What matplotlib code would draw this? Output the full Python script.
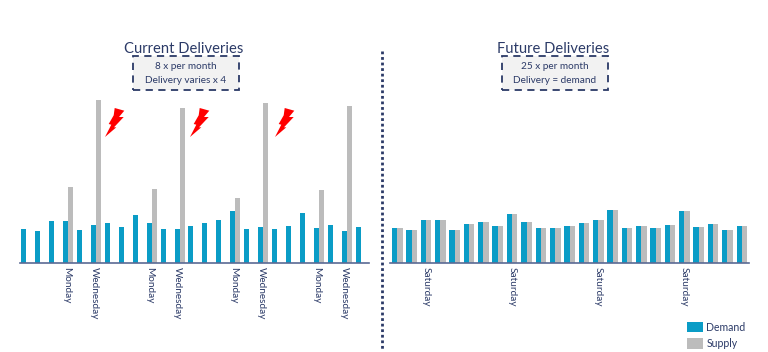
#Import Libraries
import numpy as np
from matplotlib import pyplot as plt
from matplotlib.patches import Polygon, Rectangle
from matplotlib.lines import Line2D
from matplotlib.transforms import ScaledTranslation

plt.rcParams['font.family'] = ['Lato', 'DejaVu Sans']

# Data (bar heights)
current_demand = [34, 32.3, 42, 42, 33.3, 38, 40, 36, 48, 40, 34, 34.7, 37.3,
                  40, 43.3, 52, 34, 36.7, 34.7, 37.3, 50.7, 35.3, 38, 32.3, 36.7]
current_supply = [0, 0, 0, 76, 0, 163, 0, 0, 0, 74, 0, 155, 0,
                  0, 0, 65, 0, 160, 0, 0, 0, 73.6, 0, 157, 0]
current_labels = ['', '', '', 'Monday', '', 'Wednesday', '', '', '', 'Monday', '', 'Wednesday', '',
                  '', '', 'Monday', '', 'Wednesday', '', '', '', 'Monday', '', 'Wednesday', '']

future_demand = [35, 33, 43, 43, 33.7, 39, 41, 37, 49, 41, 35, 35, 37.7,
                 40.3, 43.7, 53, 35, 37.7, 35.7, 38.3, 52.3, 36.3, 39, 33, 37.7]
future_supply = list(future_demand)
future_labels = ['', '', 'Saturday', '', '', '', '', '', 'Saturday', '', '', '', '',
                 '', 'Saturday', '', '', '', '', '', 'Saturday', '', '', '', '']

BLUE = '#0a9cc6'
GREY = '#bcbcbc'
NAVY = '#2b3a67'
W, H = 768, 352


def px_axes(fig, x0, x1, ytop, ybase):
    # axes placed in picture pixels, y measured from the top
    return fig.add_axes([x0 / W, 1 - ybase / H, (x1 - x0) / W, (ybase - ytop) / H])


def draw_bars(ax, demand, supply, labels, width, xlim, shift):
    x = np.arange(len(demand))
    bars_d = ax.bar(x - width / 2, demand, width, color=BLUE, label='Demand')
    bars_s = ax.bar(x + width / 2, supply, width, color=GREY, label='Supply')
    ax.set_xlim(*xlim)
    ax.set_ylim(0, 170)
    ax.set_xticks(x)
    ax.set_xticklabels(labels, rotation=-90, fontsize=7.2, color=NAVY, ha='center', va='top')
    ax.tick_params(axis='x', length=0, pad=3)
    # labels sit a little left of the bar groups
    for t in ax.get_xticklabels():
        t.set_transform(t.get_transform() + ScaledTranslation(shift / 100, 0, fig.dpi_scale_trans))
    ax.set_yticks([])
    for s in ['top', 'left', 'right']:
        ax.spines[s].set_visible(False)
    ax.spines['bottom'].set_color('#5a6a94')
    ax.spines['bottom'].set_linewidth(1.2)
    ax.patch.set_alpha(0)
    return bars_d, bars_s


def note_box(fig, x0, x1, y0, y1, line1, line2):
    fig.add_artist(Rectangle((x0 / W, 1 - y1 / H), (x1 - x0) / W, (y1 - y0) / H,
                             transform=fig.transFigure, facecolor='#f2f2f2',
                             edgecolor=NAVY, linewidth=1.3, linestyle=(0, (4, 3))))
    xc = (x0 + x1) / 2 / W
    h = y1 - y0
    fig.text(xc, 1 - (y0 + h * 0.3) / H, line1, fontsize=7.2, color=NAVY, ha='center', va='center')
    fig.text(xc, 1 - (y0 + h * 0.72) / H, line2, fontsize=7.2, color=NAVY, ha='center', va='center')


def bolt(fig, x, y):
    # lightning sign, offsets in pixels from its top left corner
    pts = [(9.7, 0), (19.3, 2.7), (14, 9), (18.7, 9), (9, 19.3), (11.3, 19.3), (0, 29),
           (6.3, 16.7), (3.7, 16), (8.7, 7.3)]
    fig.add_artist(Polygon([((x + a) / W, 1 - (y + b) / H) for a, b in pts],
                           transform=fig.transFigure, facecolor='#ff0000', edgecolor='none'))


fig = plt.figure(figsize=(W / 100, H / 100), dpi=100)

ax1 = px_axes(fig, 20, 369, 93.3, 263.3)
draw_bars(ax1, current_demand, current_supply, current_labels, 0.36, (-0.456, 24.6), -2)

ax2 = px_axes(fig, 390, 749, 93.3, 263.3)
bars_d, bars_s = draw_bars(ax2, future_demand, future_supply, future_labels, 0.37, (-0.51, 24.5), 0)

fig.legend(handles=[bars_d, bars_s], loc='upper left', bbox_to_anchor=(686.5 / W, 1 - 322 / H),
           frameon=False, fontsize=7.6, labelcolor=NAVY, handlelength=1.52, handleheight=1.1,
           labelspacing=0.48, handletextpad=0.35, borderpad=0, borderaxespad=0)

fig.text(184 / W, 1 - 49 / H, 'Current Deliveries', fontsize=10.6, color=NAVY, ha='center', va='center')
fig.text(553 / W, 1 - 49 / H, 'Future Deliveries', fontsize=10.6, color=NAVY, ha='center', va='center')
note_box(fig, 133, 239, 56, 90, '8 x per month', 'Delivery varies x 4')
note_box(fig, 502, 608, 56, 89.5, '25 x per month', 'Delivery = demand')

for bx in [105, 190, 275]:
    bolt(fig, bx, 108)

fig.add_artist(Line2D([382 / W, 382 / W], [1 - 51 / H, 1 - 350 / H], transform=fig.transFigure,
                      color=NAVY, linewidth=2, linestyle=(0, (1, 1))))

fig.savefig('out.png', dpi=100)
